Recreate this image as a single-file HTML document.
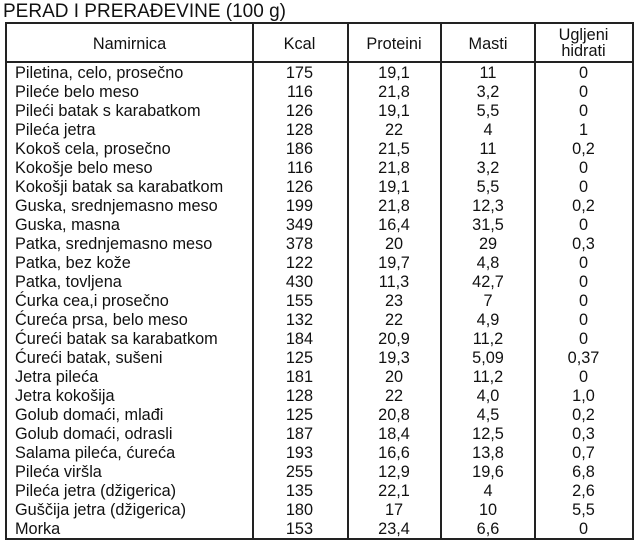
<!DOCTYPE html>
<html><head><meta charset="utf-8"><style>
body{margin:0;width:635px;height:542px;background:#fff;font-family:"Liberation Sans",Arial,sans-serif;color:#111;position:relative;overflow:hidden}
.t{position:absolute;left:3px;top:1px;font-size:19px;line-height:21px}
.box{position:absolute;left:5px;top:22px;width:625px;height:514px;border:2px solid #222}
.v{position:absolute;top:22px;height:516px;width:1.5px;background:#222}
.h{position:absolute;left:5px;width:627px;height:1.5px;background:#222;top:61px}
.r{position:absolute;left:0;width:635px;height:19px;font-size:16.3px;line-height:19px}
.r span{position:absolute}
.n{left:15px}
.k{right:322px;text-align:right}
.p{left:347px;width:94px;text-align:center}
.m{left:441px;width:94px;text-align:center}
.u{left:535px;width:97px;text-align:center}
.hd{position:absolute;font-size:16.3px;text-align:center;line-height:16px}
</style></head><body>
<div class="t">PERAD I PRERAĐEVINE (100 g)</div>
<div class="box"></div>
<div class="v" style="left:252px"></div>
<div class="v" style="left:347px"></div>
<div class="v" style="left:440px"></div>
<div class="v" style="left:534px"></div>
<div class="h"></div>
<div class="hd" style="left:7px;width:245px;top:36px">Namirnica</div>
<div class="hd" style="left:252px;width:95px;top:36px">Kcal</div>
<div class="hd" style="left:347px;width:94px;top:36px">Proteini</div>
<div class="hd" style="left:441px;width:94px;top:36px">Masti</div>
<div class="hd" style="left:535px;width:97px;top:27px">Ugljeni<br>hidrati</div>
<div class="r" style="top:64px"><span class="n">Piletina, celo, prosečno</span><span class="k">175</span><span class="p">19,1</span><span class="m">11</span><span class="u">0</span></div>
<div class="r" style="top:83px"><span class="n">Pileće belo meso</span><span class="k">116</span><span class="p">21,8</span><span class="m">3,2</span><span class="u">0</span></div>
<div class="r" style="top:102px"><span class="n">Pileći batak s karabatkom</span><span class="k">126</span><span class="p">19,1</span><span class="m">5,5</span><span class="u">0</span></div>
<div class="r" style="top:121px"><span class="n">Pileća jetra</span><span class="k">128</span><span class="p">22</span><span class="m">4</span><span class="u">1</span></div>
<div class="r" style="top:140px"><span class="n">Kokoš cela, prosečno</span><span class="k">186</span><span class="p">21,5</span><span class="m">11</span><span class="u">0,2</span></div>
<div class="r" style="top:159px"><span class="n">Kokošje belo meso</span><span class="k">116</span><span class="p">21,8</span><span class="m">3,2</span><span class="u">0</span></div>
<div class="r" style="top:178px"><span class="n">Kokošji batak sa karabatkom</span><span class="k">126</span><span class="p">19,1</span><span class="m">5,5</span><span class="u">0</span></div>
<div class="r" style="top:197px"><span class="n">Guska, srednjemasno meso</span><span class="k">199</span><span class="p">21,8</span><span class="m">12,3</span><span class="u">0,2</span></div>
<div class="r" style="top:216px"><span class="n">Guska, masna</span><span class="k">349</span><span class="p">16,4</span><span class="m">31,5</span><span class="u">0</span></div>
<div class="r" style="top:235px"><span class="n">Patka, srednjemasno meso</span><span class="k">378</span><span class="p">20</span><span class="m">29</span><span class="u">0,3</span></div>
<div class="r" style="top:254px"><span class="n">Patka, bez kože</span><span class="k">122</span><span class="p">19,7</span><span class="m">4,8</span><span class="u">0</span></div>
<div class="r" style="top:273px"><span class="n">Patka, tovljena</span><span class="k">430</span><span class="p">11,3</span><span class="m">42,7</span><span class="u">0</span></div>
<div class="r" style="top:292px"><span class="n">Ćurka cea,i prosečno</span><span class="k">155</span><span class="p">23</span><span class="m">7</span><span class="u">0</span></div>
<div class="r" style="top:311px"><span class="n">Ćureća prsa, belo meso</span><span class="k">132</span><span class="p">22</span><span class="m">4,9</span><span class="u">0</span></div>
<div class="r" style="top:330px"><span class="n">Ćureći batak sa karabatkom</span><span class="k">184</span><span class="p">20,9</span><span class="m">11,2</span><span class="u">0</span></div>
<div class="r" style="top:349px"><span class="n">Ćureći batak, sušeni</span><span class="k">125</span><span class="p">19,3</span><span class="m">5,09</span><span class="u">0,37</span></div>
<div class="r" style="top:368px"><span class="n">Jetra pileća</span><span class="k">181</span><span class="p">20</span><span class="m">11,2</span><span class="u">0</span></div>
<div class="r" style="top:387px"><span class="n">Jetra kokošija</span><span class="k">128</span><span class="p">22</span><span class="m">4,0</span><span class="u">1,0</span></div>
<div class="r" style="top:406px"><span class="n">Golub domaći, mlađi</span><span class="k">125</span><span class="p">20,8</span><span class="m">4,5</span><span class="u">0,2</span></div>
<div class="r" style="top:425px"><span class="n">Golub domaći, odrasli</span><span class="k">187</span><span class="p">18,4</span><span class="m">12,5</span><span class="u">0,3</span></div>
<div class="r" style="top:444px"><span class="n">Salama pileća, ćureća</span><span class="k">193</span><span class="p">16,6</span><span class="m">13,8</span><span class="u">0,7</span></div>
<div class="r" style="top:463px"><span class="n">Pileća viršla</span><span class="k">255</span><span class="p">12,9</span><span class="m">19,6</span><span class="u">6,8</span></div>
<div class="r" style="top:482px"><span class="n">Pileća jetra (džigerica)</span><span class="k">135</span><span class="p">22,1</span><span class="m">4</span><span class="u">2,6</span></div>
<div class="r" style="top:501px"><span class="n">Guščija jetra (džigerica)</span><span class="k">180</span><span class="p">17</span><span class="m">10</span><span class="u">5,5</span></div>
<div class="r" style="top:520px"><span class="n">Morka</span><span class="k">153</span><span class="p">23,4</span><span class="m">6,6</span><span class="u">0</span></div>
</body></html>
